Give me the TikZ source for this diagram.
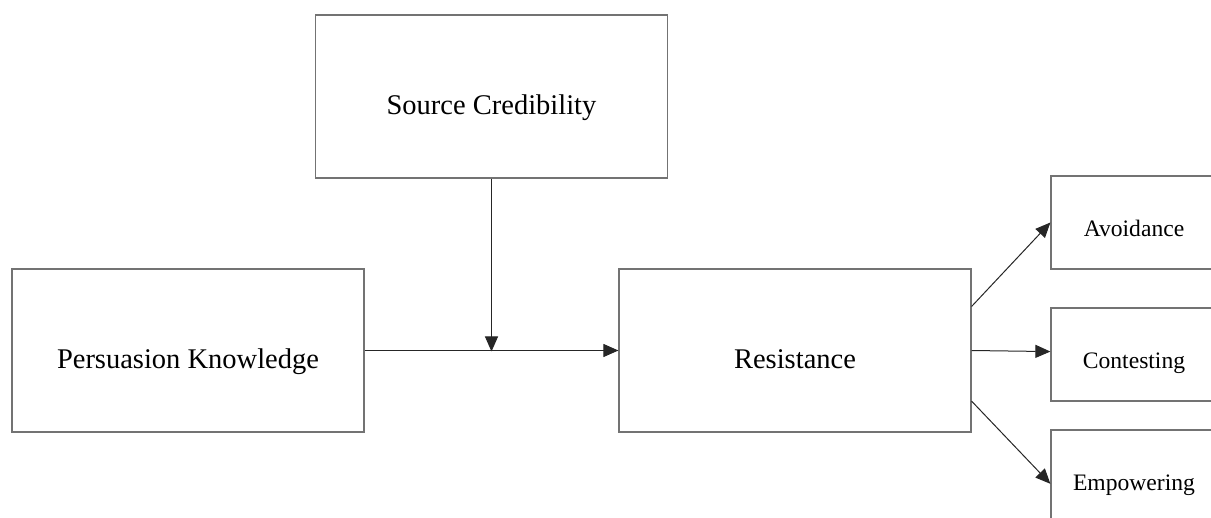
\documentclass[tikz,border=0pt]{standalone}
\usepackage{fontspec}
\setmainfont{Liberation Serif}
\usepackage{tikz}
\usetikzlibrary{arrows.meta}
\pgfkeys{tikz/bigbox/.style={draw=black!55, line width=1.2pt,
                                 minimum width=352pt, minimum height=163pt,
                                 inner sep=0pt, text height=36pt, text depth=0pt,
                                 font=\fontsize{28.5}{34}\selectfont}}
\pgfkeys{tikz/smallbox/.style={draw=black!55, line width=1.2pt,
                                   minimum width=166pt, minimum height=93pt,
                                   inner sep=0pt, text height=29pt, text depth=0pt,
                                   font=\fontsize{23.6}{28}\selectfont}}
\pgfkeys{tikz/link/.style={draw=black!85, line width=1pt,
                               -{Triangle[length=15pt, width=13pt]}}}
\begin{document}
\begin{tikzpicture}[x=1pt, y=-1pt]
            \useasboundingbox (0,0) rectangle (1211,518);

            \node[bigbox] (source) at (491.5, 96.5) {Source Credibility};

            \node[bigbox] (know) at (188, 350.5) {Persuasion Knowledge};
                    \node[bigbox] (resist) at (795, 350.5) {Resistance};

                    \coordinate (meet) at (491.5, 351.5);

                    \draw[link] (know.-0.3) -- (resist.180.3);
                    \draw[link] (source) -- (meet);

                    \node[smallbox] (avoid) at (1134, 222.5) {Avoidance};
                    \node[smallbox] (contest) at (1134, 354.5) {Contesting};
                    \node[smallbox] (empower) at (1134, 476.5) {Empowering};

                    \draw[link] (resist.14) -- (avoid.west);
                    \draw[link] (resist.-0.5) -- (contest.178.7);
                    \draw[link] (resist.-16) -- (empower.185);
        \end{tikzpicture}
\end{document}
